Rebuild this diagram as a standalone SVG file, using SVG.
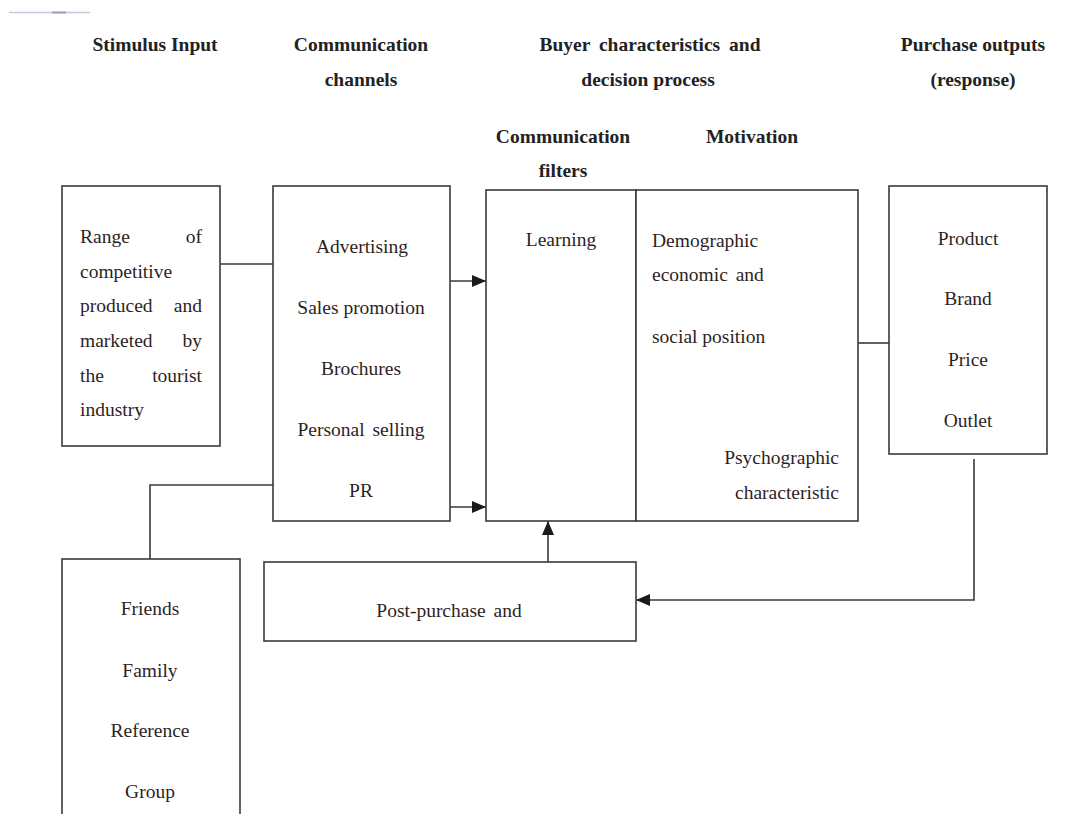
<svg xmlns="http://www.w3.org/2000/svg" width="1086" height="814" viewBox="0 0 1086 814">
<defs>
<style>
.box{fill:#fff;stroke:#3a3a3a;stroke-width:1.6}
.ln{fill:none;stroke:#3a3a3a;stroke-width:1.6}
.h{font-family:"Liberation Serif","Times New Roman",serif;font-weight:bold;font-size:19.5px;fill:#222;text-anchor:middle}
.t{font-family:"Liberation Serif","Times New Roman",serif;font-size:19.5px;fill:#2e1f1f}
.c{text-anchor:middle}
.e{text-anchor:end}
</style>
<marker id="arr" viewBox="0 0 14 12" refX="14" refY="6" markerWidth="14" markerHeight="12" markerUnits="userSpaceOnUse" orient="auto">
<path d="M0,0 L14,6 L0,12 Z" fill="#1a1a1a"/>
</marker>
</defs>
<rect width="1086" height="814" fill="#fff"/>
<line x1="9" y1="12.5" x2="90" y2="12.5" stroke="#c5c9de" stroke-width="1.5"/>
<line x1="52" y1="12.5" x2="66" y2="12.5" stroke="#9aa0bf" stroke-width="2"/>

<g id="headers">
<text class="h" x="155" y="51">Stimulus Input</text>
<text class="h" x="361" y="51">Communication</text>
<text class="h" x="361" y="86">channels</text>
<text class="h" x="650" y="51" style="word-spacing:4px">Buyer characteristics and</text>
<text class="h" x="648" y="86">decision process</text>
<text class="h" x="973" y="51">Purchase outputs</text>
<text class="h" x="973" y="86">(response)</text>
<text class="h" x="563" y="143">Communication</text>
<text class="h" x="563" y="177">filters</text>
<text class="h" x="752" y="143">Motivation</text>
</g>

<g id="connectors">
<line class="ln" x1="220" y1="264" x2="273" y2="264"/>
<line class="ln" x1="450" y1="281" x2="486" y2="281" marker-end="url(#arr)"/>
<line class="ln" x1="450" y1="507" x2="486" y2="507" marker-end="url(#arr)"/>
<polyline class="ln" points="273,485 150,485 150,559"/>
<line class="ln" x1="548" y1="562" x2="548" y2="521" marker-end="url(#arr)"/>
<line class="ln" x1="858" y1="343" x2="889" y2="343"/>
<polyline class="ln" points="974,459 974,600 636,600" marker-end="url(#arr)"/>
</g>

<g id="stimulus">
<rect class="box" x="62" y="186" width="158" height="260"/>
<text class="t" x="80" y="243">Range</text><text class="t e" x="202" y="243">of</text>
<text class="t" x="80" y="278">competitive</text>
<text class="t" x="80" y="312">produced</text><text class="t e" x="202" y="312">and</text>
<text class="t" x="80" y="347">marketed</text><text class="t e" x="202" y="347">by</text>
<text class="t" x="80" y="382">the</text><text class="t e" x="202" y="382">tourist</text>
<text class="t" x="80" y="416">industry</text>
</g>

<g id="channels">
<rect class="box" x="273" y="186" width="177" height="335"/>
<text class="t c" x="362" y="253">Advertising</text>
<text class="t c" x="361" y="314">Sales promotion</text>
<text class="t c" x="361" y="375">Brochures</text>
<text class="t c" x="361" y="436" style="word-spacing:3px">Personal selling</text>
<text class="t c" x="361" y="497">PR</text>
</g>

<g id="filters">
<rect class="box" x="486" y="190" width="150" height="331"/>
<text class="t c" x="561" y="246">Learning</text>
</g>

<g id="motivation">
<rect class="box" x="636" y="190" width="222" height="331"/>
<text class="t" x="652" y="247">Demographic</text>
<text class="t" x="652" y="281" style="word-spacing:3px">economic and</text>
<text class="t" x="652" y="343">social position</text>
<text class="t e" x="839" y="464">Psychographic</text>
<text class="t e" x="839" y="499">characteristic</text>
</g>

<g id="outputs">
<rect class="box" x="889" y="186" width="158" height="268"/>
<text class="t c" x="968" y="245">Product</text>
<text class="t c" x="968" y="305">Brand</text>
<text class="t c" x="968" y="366">Price</text>
<text class="t c" x="968" y="427">Outlet</text>
</g>

<g id="reference">
<rect class="box" x="62" y="559" width="178" height="280"/>
<text class="t c" x="150" y="615">Friends</text>
<text class="t c" x="150" y="677">Family</text>
<text class="t c" x="150" y="737">Reference</text>
<text class="t c" x="150" y="798">Group</text>
</g>

<g id="postpurchase">
<rect class="box" x="264" y="562" width="372" height="79"/>
<text class="t c" x="449" y="617" style="word-spacing:3px">Post-purchase and</text>
</g>
</svg>
